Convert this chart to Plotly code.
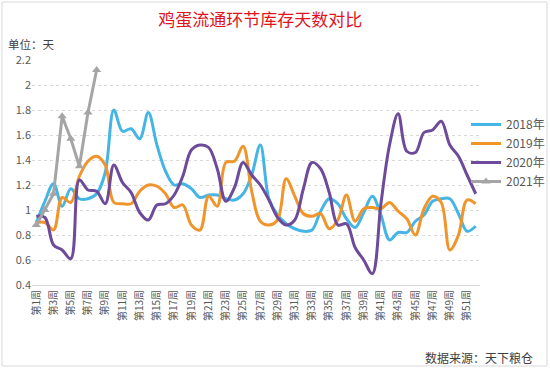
import plotly.graph_objects as go

weeks = [f"第{i}周" for i in range(1, 53)]
tick_weeks = [f"第{i}周" for i in range(1, 53, 2)]

y2018 = [0.90, 1.07, 1.21, 1.03, 1.17, 1.09, 1.09, 1.13, 1.30, 1.80,
         1.63, 1.65, 1.57, 1.78, 1.52, 1.31, 1.20, 1.21, 1.17, 1.10,
         1.12, 1.12, 1.09, 1.08, 1.13, 1.28, 1.52, 1.09, 0.96, 0.89,
         0.85, 0.83, 0.84, 0.99, 1.09, 1.05, 0.93, 0.86, 0.98, 1.11,
         0.96, 0.76, 0.82, 0.82, 0.91, 0.96, 1.07, 1.09, 1.09, 0.97,
         0.83, 0.87]
y2019 = [0.90, 0.90, 0.84, 1.10, 1.06, 1.27, 1.39, 1.43, 1.36, 1.06,
         1.05, 1.05, 1.15, 1.20, 1.19, 1.13, 1.02, 1.04, 0.88, 0.84,
         1.11, 1.03, 1.38, 1.39, 1.51, 1.15, 0.91, 0.88, 0.92, 1.25,
         1.11, 0.97, 0.95, 0.97, 0.85, 0.92, 1.12, 0.91, 1.01, 1.02,
         1.01, 1.06, 0.99, 0.93, 0.80, 1.01, 1.11, 1.06, 0.68, 0.80,
         1.08, 1.05]
y2020 = [0.95, 0.94, 0.72, 0.68, 0.61, 1.24, 1.16, 1.15, 1.05, 1.36,
         1.22, 1.14, 0.98, 0.92, 1.04, 1.05, 1.12, 1.27, 1.48, 1.52,
         1.50, 1.33, 1.07, 1.18, 1.38, 1.28, 1.20, 1.08, 0.94, 0.88,
         0.92, 1.17, 1.38, 1.33, 1.14, 0.88, 0.89, 0.70, 0.60, 0.49,
         1.05, 1.52, 1.77, 1.47, 1.46, 1.62, 1.64, 1.71, 1.52, 1.43,
         1.28, 1.13]
y2021 = [0.88, 1.00, 1.13, 1.75, 1.57, 1.35, 1.78, 2.12]

series = [
    ("2018年", y2018, "#45B5E6"),
    ("2019年", y2019, "#F0952B"),
    ("2020年", y2020, "#6E4A9A"),
]

fig = go.Figure()
for name, ys, color in series:
    fig.add_trace(go.Scatter(
        x=weeks[:len(ys)], y=ys, name=name, mode="lines",
        line=dict(color=color, width=3, shape="spline", smoothing=1.0),
    ))
fig.add_trace(go.Scatter(
    x=weeks[:len(y2021)], y=y2021, name="2021年", mode="lines+markers",
    line=dict(color="#A5A5A5", width=3),
    marker=dict(symbol="triangle-up", size=8, color="#A5A5A5"),
))

font = "Noto Sans CJK SC, Noto Sans, sans-serif"
fig.update_layout(
    width=550, height=368,
    margin=dict(l=32, r=70, t=60, b=83, autoexpand=False),
    paper_bgcolor="white", plot_bgcolor="white",
    font=dict(family=font, size=11, color="#595959"),
    title=dict(text="鸡蛋流通环节库存天数对比", x=0.473, xanchor="center",
               y=1 - 20 / 368, yanchor="middle", yref="container",
               font=dict(size=17, color="#E0141E", family=font)),
    showlegend=True,
    legend=dict(xref="container", yref="container", x=466 / 550, xanchor="left",
                y=1 - 153 / 368, yanchor="middle",
                font=dict(size=12, color="#595959"), itemwidth=30,
                bgcolor="rgba(0,0,0,0)", tracegroupgap=0),
    xaxis=dict(type="category", categoryorder="array", categoryarray=weeks,
               range=[-0.5, 51.5], tickvals=tick_weeks, ticktext=tick_weeks,
               tickangle=-90, tickfont=dict(size=10, color="#595959"),
               showgrid=False, showline=True, linecolor="#D9D9D9", linewidth=1,
               ticks=""),
    yaxis=dict(range=[0.4, 2.2], dtick=0.2, showgrid=True, gridcolor="#D9D9D9",
               griddash="dot", gridwidth=1, zeroline=False, ticks="",
               tickfont=dict(size=11, color="#595959")),
    annotations=[
        dict(text="单位：天", xref="paper", yref="paper",
             x=(6 - 32) / 448, y=(285 - 44) / 225, xanchor="left", yanchor="middle",
             showarrow=False, font=dict(size=11.5, color="#404040")),
        dict(text="数据来源：天下粮仓", xref="paper", yref="paper",
             x=(535 - 32) / 448, y=(285 - 357) / 225, xanchor="right", yanchor="middle",
             showarrow=False, font=dict(size=12, color="#404040")),
    ],
    shapes=[
        dict(type="rect", xref="paper", yref="paper",
             x0=(2 - 32) / 448, x1=(547 - 32) / 448,
             y0=(285 - 366) / 225, y1=(285 - 2) / 225,
             line=dict(color="#D9D9D9", width=1), fillcolor="rgba(0,0,0,0)", layer="below"),
    ],
)

fig.write_html("out.html", config={"displayModeBar": False},
               post_script="document.body.style.margin='0';document.body.style.overflow='hidden';")
